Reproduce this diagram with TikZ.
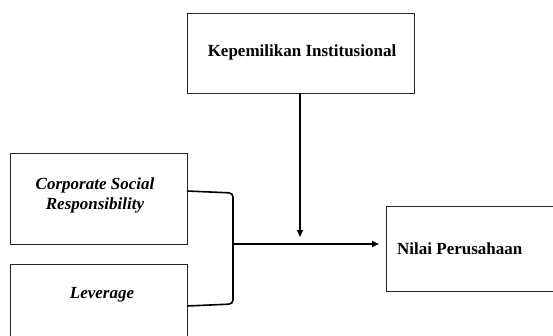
\documentclass[tikz,border=0pt]{standalone}
\usepackage{fontspec}
\setmainfont{Liberation Serif}
\usetikzlibrary{arrows.meta}
\begin{document}
\begin{tikzpicture}[x=1pt,y=-1pt,
  boxst/.style={draw=black!85,line width=0.9pt},
  conn/.style={draw=black,line width=1.6pt},
  lbl/.style={font=\fontsize{17}{20}\selectfont\bfseries,inner sep=0pt},
  arr/.style={conn,-{Triangle[length=7pt,width=6pt]}}]
\useasboundingbox (0,0) rectangle (553,336);
\begin{scope}
\clip (0,0) rectangle (553,336);
\draw[boxst] (187,13) rectangle (414,93);
\draw[boxst] (10,153) rectangle (187,244);
\draw[boxst] (10,264) rectangle (187,345);
\draw[boxst] (386,206) rectangle (560,291);
\end{scope}
\node[lbl] (ki) at (302,52) {Kepemilikan Institusional};
\node[lbl,align=center,font=\fontsize{17}{20}\selectfont\bfseries\itshape] (csr) at (95,195) {Corporate Social\\Responsibility};
\node[lbl,font=\fontsize{17}{20}\selectfont\bfseries\itshape] (lev) at (102,295) {Leverage};
\node[lbl,anchor=west] (np) at (397,249) {Nilai Perusahaan};
\coordinate (csrR) at (187,191);
\coordinate (levR) at (187,306);
\coordinate (join) at (233,244);
\coordinate (tip) at (379,244);
\coordinate (kiB) at (300,93);
\coordinate (vtip) at (300,237);
\draw[conn,rounded corners=4pt] (csrR) -- (233,193) -- (233,304) -- (levR);
\draw[arr] (join) -- (tip);
\draw[arr] (kiB) -- (vtip);
\end{tikzpicture}
\end{document}
